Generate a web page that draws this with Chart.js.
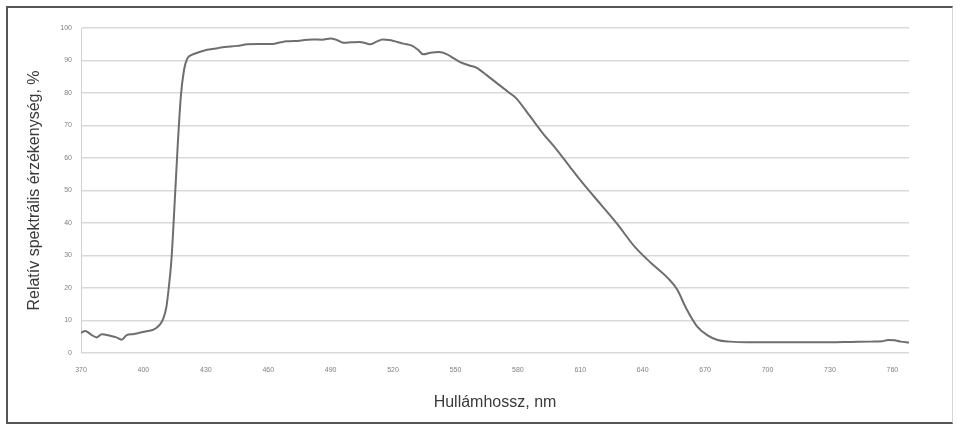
<!DOCTYPE html>
<html>
<head>
<meta charset="utf-8">
<script src="https://cdn.jsdelivr.net/npm/chart.js@4/dist/chart.umd.min.js"></script>
<style>
  html, body { margin: 0; padding: 0; background: #fff; }
  #wrap { position: relative; width: 957px; height: 424px; }
  #frame {
    position: absolute; left: 6px; top: 6px; width: 944px; height: 414px;
    border-left: 2px solid #555; border-top: 2px solid #555; border-bottom: 2px solid #555;
    border-right: 1px solid #d4d4d4; pointer-events: none;
  }
  canvas { position: absolute; left: 0; top: 0; }
</style>
</head>
<body>
<div id="wrap">
  <canvas id="chart" width="957" height="424"></canvas>
  <div id="frame"></div>
</div>
<script>
// Wavelength (nm) and relative spectral sensitivity (%)
const wavelengths = [
  370, 372, 375, 377.5, 380, 384, 387, 389.5, 392, 395, 398, 402, 404, 406, 408,
  409.5, 411, 412, 413.5, 415, 416.5, 418, 419.5, 421, 423.5, 427, 430.5, 435, 438,
  442, 445, 450, 455, 462, 466, 469, 475, 481, 486, 490, 493, 496, 500, 504, 507,
  509, 512, 515, 519, 522, 525, 529, 532, 534.5, 538, 542, 546, 549, 552, 556, 560,
  565, 571, 576, 579, 586, 592, 599, 605, 611, 620, 628, 636, 644, 652, 656.5, 661,
  666, 671, 676, 682, 690, 700, 710, 720, 730, 740, 750, 755, 758, 761, 764, 768
];
const sensitivity = [
  6.2, 6.8, 5.6, 4.8, 5.8, 5.3, 4.8, 4.1, 5.5, 5.8, 6.2, 6.8, 7.0, 7.6, 8.8,
  10.5, 14, 19, 29, 46, 64, 79, 87, 90.5, 91.8, 92.6, 93.3, 93.7, 94.1,
  94.3, 94.5, 95.0, 95.1, 95.1, 95.6, 95.9, 96.1, 96.5, 96.4, 96.8, 96.3, 95.5, 95.6, 95.7, 95.3,
  95.0, 95.8, 96.5, 96.2, 95.7, 95.2, 94.6, 93.3, 91.9, 92.4, 92.6, 91.9, 90.7, 89.6, 88.6, 87.8,
  85.5, 82.5, 80.0, 78.5, 72.7, 67.6, 62.3, 57.3, 52.4, 45.6, 39.5, 32.8, 27.7, 23.1, 19.6, 13.6,
  8.3, 5.5, 4.0, 3.5, 3.3, 3.3, 3.3, 3.3, 3.3, 3.4, 3.5, 3.6, 4.0, 3.9, 3.5, 3.2
];
const xTickValues = [370, 400, 430, 460, 490, 520, 550, 580, 610, 640, 670, 700, 730, 760];

const points = wavelengths.map((w, i) => ({ x: w, y: sensitivity[i] }));

Chart.defaults.font.family = '"Liberation Sans", Arial, sans-serif';

new Chart(document.getElementById('chart'), {
  type: 'line',
  data: {
    datasets: [{
      data: points,
      borderColor: '#6e6e6e',
      borderWidth: 2,
      pointRadius: 0,
      fill: false,
      cubicInterpolationMode: 'monotone'
    }]
  },
  options: {
    responsive: false,
    animation: false,
    layout: { padding: { left: 10, right: 48, top: 28, bottom: 10 } },
    plugins: { legend: { display: false }, tooltip: { enabled: false } },
    scales: {
      x: {
        type: 'linear',
        min: 370,
        max: 768,
        afterBuildTicks: (scale) => { scale.ticks = xTickValues.map(v => ({ value: v })); },
        afterFit: (scale) => { scale.height = 61; },
        grid: { display: false, drawTicks: false },
        border: { display: false },
        ticks: { color: '#808080', font: { size: 7 }, padding: 13, autoSkip: false, maxRotation: 0 },
        title: {
          display: true,
          text: 'Hullámhossz, nm',
          color: '#3a3a3a',
          font: { size: 16 },
          padding: { top: 0, bottom: 2 }
        }
      },
      y: {
        min: 0,
        max: 100,
        afterFit: (scale) => { scale.width = 71; },
        ticks: { stepSize: 10, color: '#808080', font: { size: 7 }, padding: 9 },
        grid: { color: '#d9d9d9', lineWidth: 1.5, drawTicks: false },
        border: { display: true, color: '#d0d0d0', width: 1 },
        title: {
          display: true,
          text: 'Relatív spektrális érzékenység, %',
          color: '#3a3a3a',
          font: { size: 16 },
          padding: { top: 15, bottom: 0 }
        }
      }
    }
  }
});
</script>
</body>
</html>
